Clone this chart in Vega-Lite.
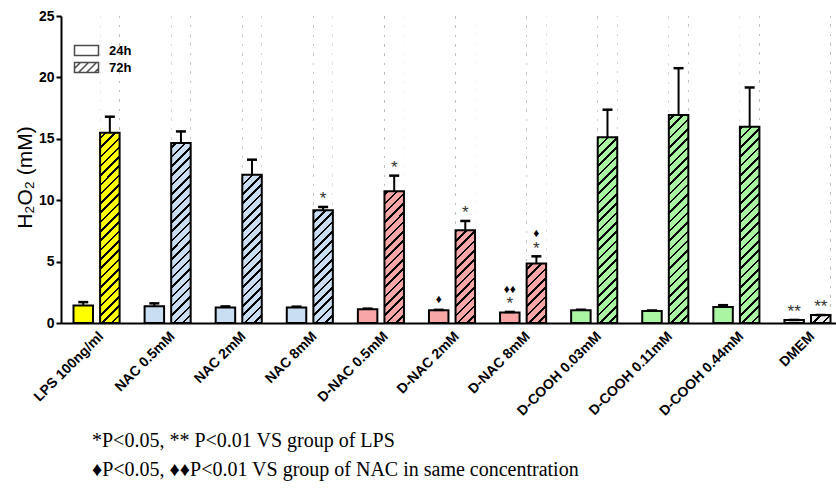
{
  "$schema": "https://vega.github.io/schema/vega-lite/v6.json",
  "autosize": {"type": "none"},
  "padding": {"left": 61, "top": 16, "right": 0, "bottom": 181},
  "width": 775,
  "height": 307,
  "background": "white",
  "config": {"view": {"stroke": null}},
  "title": {
    "text": ["*P<0.05, ** P<0.01 VS group of LPS", "♦P<0.05, ♦♦P<0.01 VS group of NAC in same concentration"],
    "orient": "bottom", "anchor": "start", "frame": "group",
    "font": "Liberation Serif", "fontSize": 20, "fontWeight": "normal", "color": "black",
    "lineHeight": 29, "offset": 13, "dx": 31
  },
  "data": {"values": [
    {"group": "LPS 100ng/ml", "time": "24h", "value": 1.42, "upper": 1.7, "star": "", "dia": ""},
    {"group": "LPS 100ng/ml", "time": "72h", "value": 15.5, "upper": 16.8, "star": "", "dia": ""},
    {"group": "NAC 0.5mM", "time": "24h", "value": 1.36, "upper": 1.6, "star": "", "dia": ""},
    {"group": "NAC 0.5mM", "time": "72h", "value": 14.66, "upper": 15.6, "star": "", "dia": ""},
    {"group": "NAC 2mM", "time": "24h", "value": 1.27, "upper": 1.35, "star": "", "dia": ""},
    {"group": "NAC 2mM", "time": "72h", "value": 12.08, "upper": 13.3, "star": "", "dia": ""},
    {"group": "NAC 8mM", "time": "24h", "value": 1.27, "upper": 1.33, "star": "", "dia": ""},
    {"group": "NAC 8mM", "time": "72h", "value": 9.18, "upper": 9.45, "star": "*", "dia": ""},
    {"group": "D-NAC 0.5mM", "time": "24h", "value": 1.12, "upper": 1.17, "star": "", "dia": ""},
    {"group": "D-NAC 0.5mM", "time": "72h", "value": 10.72, "upper": 12.0, "star": "*", "dia": ""},
    {"group": "D-NAC 2mM", "time": "24h", "value": 1.03, "upper": 1.07, "star": "", "dia": "♦"},
    {"group": "D-NAC 2mM", "time": "72h", "value": 7.55, "upper": 8.31, "star": "*", "dia": ""},
    {"group": "D-NAC 8mM", "time": "24h", "value": 0.85, "upper": 0.9, "star": "*", "dia": "♦♦"},
    {"group": "D-NAC 8mM", "time": "72h", "value": 4.84, "upper": 5.43, "star": "*", "dia": "♦"},
    {"group": "D-COOH 0.03mM", "time": "24h", "value": 1.03, "upper": 1.08, "star": "", "dia": ""},
    {"group": "D-COOH 0.03mM", "time": "72h", "value": 15.12, "upper": 17.37, "star": "", "dia": ""},
    {"group": "D-COOH 0.11mM", "time": "24h", "value": 0.98, "upper": 1.02, "star": "", "dia": ""},
    {"group": "D-COOH 0.11mM", "time": "72h", "value": 16.94, "upper": 20.75, "star": "", "dia": ""},
    {"group": "D-COOH 0.44mM", "time": "24h", "value": 1.31, "upper": 1.45, "star": "", "dia": ""},
    {"group": "D-COOH 0.44mM", "time": "72h", "value": 15.99, "upper": 19.18, "star": "", "dia": ""},
    {"group": "DMEM", "time": "24h", "value": 0.25, "upper": 0.25, "star": "**", "dia": ""},
    {"group": "DMEM", "time": "72h", "value": 0.65, "upper": 0.65, "star": "**", "dia": ""}
  ]},
  "encoding": {
    "x": {
      "field": "group", "type": "nominal", "sort": null,
      "scale": {"range": [0, 782], "paddingInner": 0, "paddingOuter": 0},
      "axis": {
        "title": null, "labelAngle": -45, "ticks": false, "grid": false, "zindex": 1,
        "domainColor": "black", "domainWidth": 2,
        "labelFont": "Liberation Sans", "labelFontWeight": "bold", "labelFontSize": 14,
        "labelColor": "black", "labelPadding": 6
      }
    },
    "xOffset": {
      "field": "time", "type": "nominal",
      "scale": {"domain": ["24h", "72h"], "paddingInner": 0.267, "paddingOuter": 0.47}
    }
  },
  "layer": [
    {
      "mark": {"type": "bar", "strokeWidth": 0},
      "encoding": {
        "y": {
          "field": "value", "type": "quantitative",
          "scale": {"domain": [0, 25], "nice": false},
          "axis": {
            "values": [0, 5, 10, 15, 20, 25], "grid": false, "zindex": 1,
            "domainColor": "black", "domainWidth": 2,
            "tickColor": "black", "tickWidth": 2, "tickSize": 5,
            "labelFont": "Liberation Sans", "labelFontWeight": "bold", "labelFontSize": 14,
            "labelColor": "black", "labelPadding": 2,
            "title": "H₂O₂ (mM)", "titleFont": "Liberation Sans", "titleFontWeight": "normal",
            "titleFontSize": 21, "titleColor": "black", "titlePadding": 3, "titleY": 161
          }
        },
        "color": {
          "field": "group", "type": "nominal", "legend": null,
          "scale": {
            "domain": ["LPS 100ng/ml", "NAC 0.5mM", "NAC 2mM", "NAC 8mM", "D-NAC 0.5mM", "D-NAC 2mM", "D-NAC 8mM", "D-COOH 0.03mM", "D-COOH 0.11mM", "D-COOH 0.44mM", "DMEM"],
            "range": ["#ffff00", "#c9ddf3", "#c9ddf3", "#c9ddf3", "#f9a6a6", "#f9a6a6", "#f9a6a6", "#aaf5a2", "#aaf5a2", "#aaf5a2", "#ebebeb"]
          }
        }
      }
    },
    {
      "transform": [{"filter": "datum.time === '72h'"}],
      "mark": {
        "type": "bar", "strokeWidth": 0,
        "fill": {
          "gradient": "linear", "x1": 0, "y1": 0, "x2": 0.0673, "y2": 1.0592,
          "stops": [
            {"offset": 0, "color": "#000"}, {"offset": 0.008, "color": "#000"}, {"offset": 0.008, "color": "rgba(0,0,0,0)"}, {"offset": 0.028571, "color": "rgba(0,0,0,0)"},
            {"offset": 0.028571, "color": "#000"}, {"offset": 0.036571, "color": "#000"}, {"offset": 0.036571, "color": "rgba(0,0,0,0)"}, {"offset": 0.057143, "color": "rgba(0,0,0,0)"},
            {"offset": 0.057143, "color": "#000"}, {"offset": 0.065143, "color": "#000"}, {"offset": 0.065143, "color": "rgba(0,0,0,0)"}, {"offset": 0.085714, "color": "rgba(0,0,0,0)"},
            {"offset": 0.085714, "color": "#000"}, {"offset": 0.093714, "color": "#000"}, {"offset": 0.093714, "color": "rgba(0,0,0,0)"}, {"offset": 0.114286, "color": "rgba(0,0,0,0)"},
            {"offset": 0.114286, "color": "#000"}, {"offset": 0.122286, "color": "#000"}, {"offset": 0.122286, "color": "rgba(0,0,0,0)"}, {"offset": 0.142857, "color": "rgba(0,0,0,0)"},
            {"offset": 0.142857, "color": "#000"}, {"offset": 0.150857, "color": "#000"}, {"offset": 0.150857, "color": "rgba(0,0,0,0)"}, {"offset": 0.171429, "color": "rgba(0,0,0,0)"},
            {"offset": 0.171429, "color": "#000"}, {"offset": 0.179429, "color": "#000"}, {"offset": 0.179429, "color": "rgba(0,0,0,0)"}, {"offset": 0.2, "color": "rgba(0,0,0,0)"},
            {"offset": 0.2, "color": "#000"}, {"offset": 0.208, "color": "#000"}, {"offset": 0.208, "color": "rgba(0,0,0,0)"}, {"offset": 0.228571, "color": "rgba(0,0,0,0)"},
            {"offset": 0.228571, "color": "#000"}, {"offset": 0.236571, "color": "#000"}, {"offset": 0.236571, "color": "rgba(0,0,0,0)"}, {"offset": 0.257143, "color": "rgba(0,0,0,0)"},
            {"offset": 0.257143, "color": "#000"}, {"offset": 0.265143, "color": "#000"}, {"offset": 0.265143, "color": "rgba(0,0,0,0)"}, {"offset": 0.285714, "color": "rgba(0,0,0,0)"},
            {"offset": 0.285714, "color": "#000"}, {"offset": 0.293714, "color": "#000"}, {"offset": 0.293714, "color": "rgba(0,0,0,0)"}, {"offset": 0.314286, "color": "rgba(0,0,0,0)"},
            {"offset": 0.314286, "color": "#000"}, {"offset": 0.322286, "color": "#000"}, {"offset": 0.322286, "color": "rgba(0,0,0,0)"}, {"offset": 0.342857, "color": "rgba(0,0,0,0)"},
            {"offset": 0.342857, "color": "#000"}, {"offset": 0.350857, "color": "#000"}, {"offset": 0.350857, "color": "rgba(0,0,0,0)"}, {"offset": 0.371429, "color": "rgba(0,0,0,0)"},
            {"offset": 0.371429, "color": "#000"}, {"offset": 0.379429, "color": "#000"}, {"offset": 0.379429, "color": "rgba(0,0,0,0)"}, {"offset": 0.4, "color": "rgba(0,0,0,0)"},
            {"offset": 0.4, "color": "#000"}, {"offset": 0.408, "color": "#000"}, {"offset": 0.408, "color": "rgba(0,0,0,0)"}, {"offset": 0.428571, "color": "rgba(0,0,0,0)"},
            {"offset": 0.428571, "color": "#000"}, {"offset": 0.436571, "color": "#000"}, {"offset": 0.436571, "color": "rgba(0,0,0,0)"}, {"offset": 0.457143, "color": "rgba(0,0,0,0)"},
            {"offset": 0.457143, "color": "#000"}, {"offset": 0.465143, "color": "#000"}, {"offset": 0.465143, "color": "rgba(0,0,0,0)"}, {"offset": 0.485714, "color": "rgba(0,0,0,0)"},
            {"offset": 0.485714, "color": "#000"}, {"offset": 0.493714, "color": "#000"}, {"offset": 0.493714, "color": "rgba(0,0,0,0)"}, {"offset": 0.514286, "color": "rgba(0,0,0,0)"},
            {"offset": 0.514286, "color": "#000"}, {"offset": 0.522286, "color": "#000"}, {"offset": 0.522286, "color": "rgba(0,0,0,0)"}, {"offset": 0.542857, "color": "rgba(0,0,0,0)"},
            {"offset": 0.542857, "color": "#000"}, {"offset": 0.550857, "color": "#000"}, {"offset": 0.550857, "color": "rgba(0,0,0,0)"}, {"offset": 0.571429, "color": "rgba(0,0,0,0)"},
            {"offset": 0.571429, "color": "#000"}, {"offset": 0.579429, "color": "#000"}, {"offset": 0.579429, "color": "rgba(0,0,0,0)"}, {"offset": 0.6, "color": "rgba(0,0,0,0)"},
            {"offset": 0.6, "color": "#000"}, {"offset": 0.608, "color": "#000"}, {"offset": 0.608, "color": "rgba(0,0,0,0)"}, {"offset": 0.628571, "color": "rgba(0,0,0,0)"},
            {"offset": 0.628571, "color": "#000"}, {"offset": 0.636571, "color": "#000"}, {"offset": 0.636571, "color": "rgba(0,0,0,0)"}, {"offset": 0.657143, "color": "rgba(0,0,0,0)"},
            {"offset": 0.657143, "color": "#000"}, {"offset": 0.665143, "color": "#000"}, {"offset": 0.665143, "color": "rgba(0,0,0,0)"}, {"offset": 0.685714, "color": "rgba(0,0,0,0)"},
            {"offset": 0.685714, "color": "#000"}, {"offset": 0.693714, "color": "#000"}, {"offset": 0.693714, "color": "rgba(0,0,0,0)"}, {"offset": 0.714286, "color": "rgba(0,0,0,0)"},
            {"offset": 0.714286, "color": "#000"}, {"offset": 0.722286, "color": "#000"}, {"offset": 0.722286, "color": "rgba(0,0,0,0)"}, {"offset": 0.742857, "color": "rgba(0,0,0,0)"},
            {"offset": 0.742857, "color": "#000"}, {"offset": 0.750857, "color": "#000"}, {"offset": 0.750857, "color": "rgba(0,0,0,0)"}, {"offset": 0.771429, "color": "rgba(0,0,0,0)"},
            {"offset": 0.771429, "color": "#000"}, {"offset": 0.779429, "color": "#000"}, {"offset": 0.779429, "color": "rgba(0,0,0,0)"}, {"offset": 0.8, "color": "rgba(0,0,0,0)"},
            {"offset": 0.8, "color": "#000"}, {"offset": 0.808, "color": "#000"}, {"offset": 0.808, "color": "rgba(0,0,0,0)"}, {"offset": 0.828571, "color": "rgba(0,0,0,0)"},
            {"offset": 0.828571, "color": "#000"}, {"offset": 0.836571, "color": "#000"}, {"offset": 0.836571, "color": "rgba(0,0,0,0)"}, {"offset": 0.857143, "color": "rgba(0,0,0,0)"},
            {"offset": 0.857143, "color": "#000"}, {"offset": 0.865143, "color": "#000"}, {"offset": 0.865143, "color": "rgba(0,0,0,0)"}, {"offset": 0.885714, "color": "rgba(0,0,0,0)"},
            {"offset": 0.885714, "color": "#000"}, {"offset": 0.893714, "color": "#000"}, {"offset": 0.893714, "color": "rgba(0,0,0,0)"}, {"offset": 0.914286, "color": "rgba(0,0,0,0)"},
            {"offset": 0.914286, "color": "#000"}, {"offset": 0.922286, "color": "#000"}, {"offset": 0.922286, "color": "rgba(0,0,0,0)"}, {"offset": 0.942857, "color": "rgba(0,0,0,0)"},
            {"offset": 0.942857, "color": "#000"}, {"offset": 0.950857, "color": "#000"}, {"offset": 0.950857, "color": "rgba(0,0,0,0)"}, {"offset": 0.971429, "color": "rgba(0,0,0,0)"},
            {"offset": 0.971429, "color": "#000"}, {"offset": 0.979429, "color": "#000"}, {"offset": 0.979429, "color": "rgba(0,0,0,0)"}, {"offset": 1, "color": "rgba(0,0,0,0)"}
          ]
        }
      },
      "encoding": {
        "y": {"datum": 0, "type": "quantitative"},
        "y2": {"datum": 25}
      }
    },
    {
      "transform": [{"filter": "datum.time === '72h'"}],
      "mark": {"type": "bar", "fill": "white", "strokeWidth": 0},
      "encoding": {
        "y": {"field": "value", "type": "quantitative"},
        "y2": {"datum": 25}
      }
    },
    {
      "mark": {"type": "bar", "fillOpacity": 0, "stroke": "black", "strokeWidth": 2},
      "encoding": {
        "y": {"field": "value", "type": "quantitative"}
      }
    },
    {
      "mark": {"type": "rule", "color": "black", "strokeWidth": 2},
      "encoding": {
        "y": {"field": "value", "type": "quantitative"},
        "y2": {"field": "upper"}
      }
    },
    {
      "mark": {"type": "tick", "orient": "horizontal", "color": "black", "thickness": 2.5, "opacity": 1},
      "encoding": {
        "y": {"field": "upper", "type": "quantitative"},
        "size": {"value": 10}
      }
    },
    {
      "mark": {"type": "text", "baseline": "alphabetic", "dy": -2.6, "font": "Liberation Sans", "fontSize": 17, "color": "#333"},
      "encoding": {
        "y": {"field": "upper", "type": "quantitative"},
        "text": {"field": "star"}
      }
    },
    {
      "transform": [{"filter": "datum.star !== ''"}],
      "mark": {"type": "text", "baseline": "alphabetic", "dy": -19, "font": "Liberation Sans", "fontSize": 12, "color": "black"},
      "encoding": {
        "y": {"field": "upper", "type": "quantitative"},
        "text": {"field": "dia"}
      }
    },
    {
      "transform": [{"filter": "datum.star === ''"}],
      "mark": {"type": "text", "baseline": "alphabetic", "dy": -7, "font": "Liberation Sans", "fontSize": 12, "color": "black"},
      "encoding": {
        "y": {"field": "upper", "type": "quantitative"},
        "text": {"field": "dia"}
      }
    },
    {
      "mark": {"type": "point", "filled": false, "color": "black", "strokeWidth": 2, "clip": true},
      "encoding": {
        "y": {"datum": 40, "type": "quantitative"},
        "shape": {
          "field": "time", "type": "nominal",
          "scale": {"domain": ["24h", "72h"], "range": ["M -2.4 -1 L 2.4 -1 L 2.4 1 L -2.4 1 Z", "M -2.4 -1 L 2.4 -1 L 2.4 1 L -2.4 1 Z M -2.4 0.2 L -1.2 -1 M -1.6 1 L 0.4 -1 M 0 1 L 2 -1 M 1.6 1 L 2.4 0.2"]},
          "legend": {
            "title": null, "orient": "none", "legendX": 19, "legendY": 28, "zindex": 2,
            "padding": 0, "symbolSize": 100,
            "labelFont": "Liberation Sans", "labelFontWeight": "bold", "labelFontSize": 13,
            "labelColor": "black", "labelOffset": 16, "rowPadding": 0,
            "encode": {"symbols": {
              "fill": {"value": "white"}, "stroke": {"value": "black"},
              "strokeWidth": {"value": 2.5}, "opacity": {"value": 1}, "strokeOpacity": {"value": 1}, "size": {"value": 100}
            }}
          }
        }
      }
    }
  ]
}
